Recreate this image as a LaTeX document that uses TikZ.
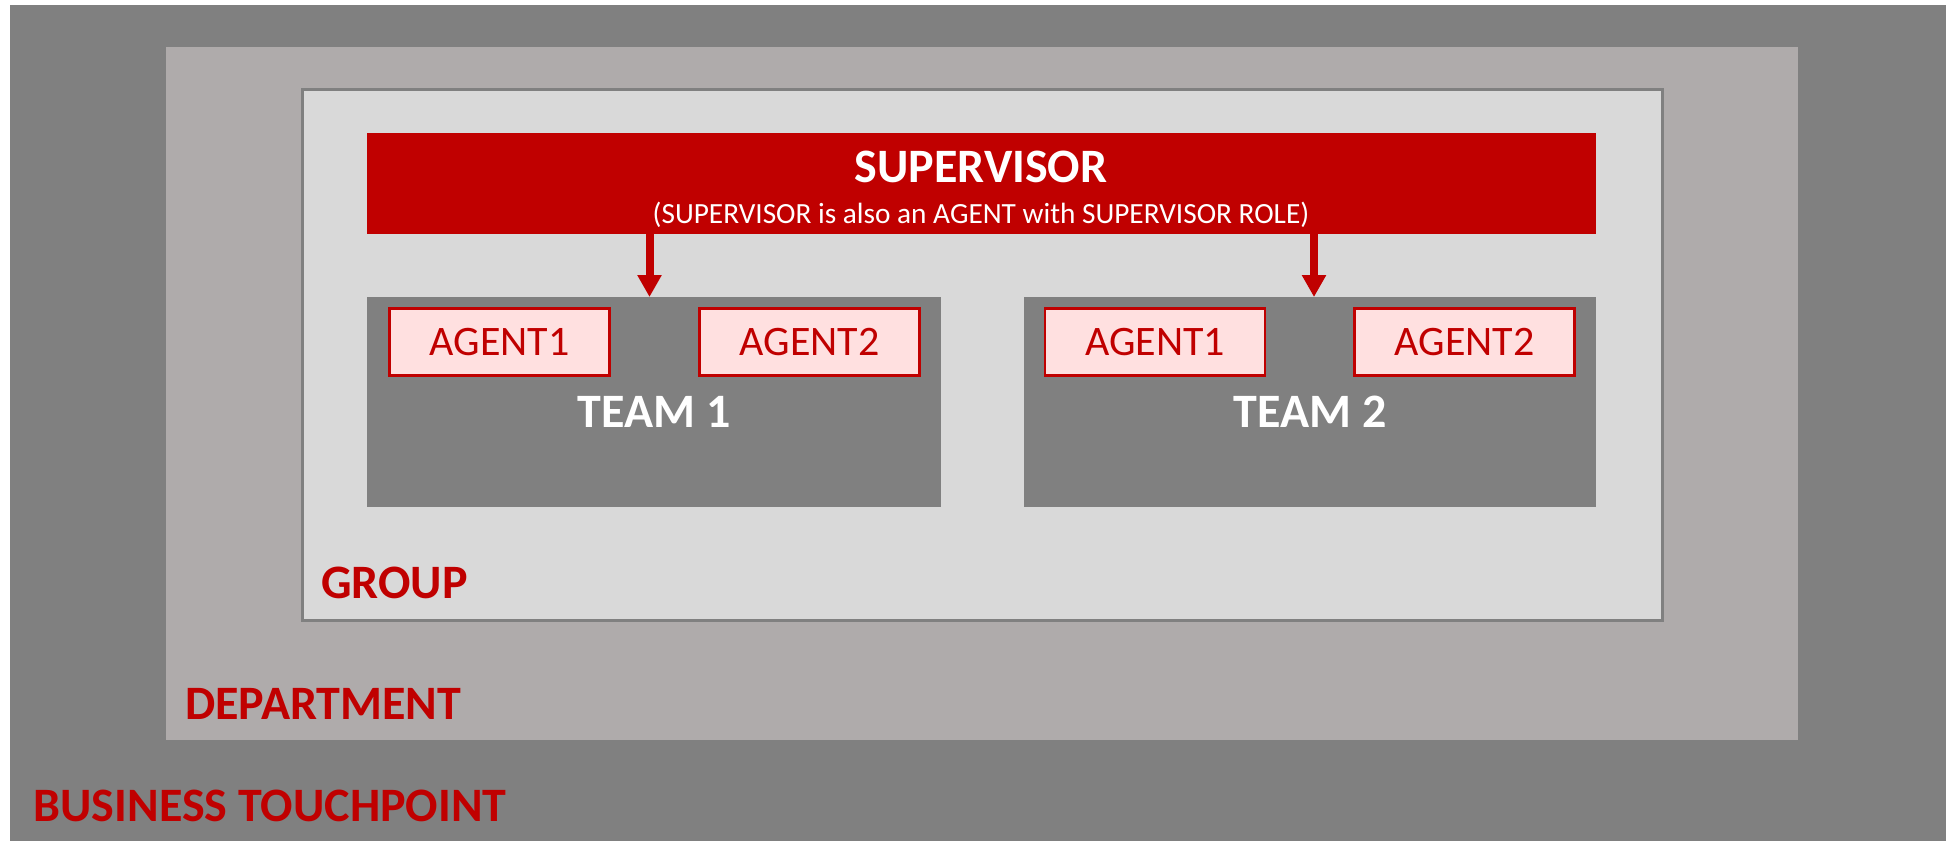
\documentclass[tikz,border=0pt]{standalone}
\usepackage{fontspec}
\setmainfont{Carlito}
\usepackage{tikz}
\usetikzlibrary{arrows.meta}
\definecolor{slate}{HTML}{808080}
\definecolor{stone}{HTML}{AFABAB}
\definecolor{mist}{HTML}{D9D9D9}
\definecolor{crimson}{HTML}{C00000}
\definecolor{blush}{HTML}{FFE0E0}
\newcommand{\BigFont}{\fontsize{48}{57}\selectfont\bfseries}
\newcommand{\MidFont}{\fontsize{42}{50}\selectfont}
\newcommand{\NoteFont}{\fontsize{29.3}{35}\selectfont}

\begin{document}
\begin{tikzpicture}[x=1pt,y=-1pt,
    box/.style={inner sep=0pt,outer sep=0pt,anchor=north west},
    agent/.style={box,draw=crimson,line width=2.5pt,fill=blush,minimum width=220pt,minimum height=67pt,text=crimson,font=\MidFont},
    tag/.style={anchor=base west,inner sep=0pt,text=crimson,font=\BigFont},
    flow/.style={-{Triangle[width=23pt,length=22pt]},line width=8pt,crimson}]
          \useasboundingbox (0,0) rectangle (1946,841);
          \fill[white] (0,0) rectangle (1946,841);
          % nested areas
          \fill[slate] (10,5) rectangle (1946,841);
          \fill[stone] (166,47) rectangle (1798,740);
          \filldraw[fill=mist,draw=slate,line width=3pt] (302,89) rectangle (1662,620);
          \node[tag] (touch) at (33.5,821) {BUSINESS TOUCHPOINT};
          \node[tag] (dept) at (185,719) {DEPARTMENT};
          \node[tag] (group) at (321,598) {GROUP};
          % supervisor bar
          \node[box,fill=crimson,minimum width=1229pt,minimum height=101pt] (sup) at (367,133) {};
          \node[anchor=base,inner sep=0pt,text=white,font=\BigFont] (suptitle) at (981,182) {SUPERVISOR};
          \node[anchor=base,inner sep=0pt,text=white,font=\NoteFont] (supnote) at (981,223) {(SUPERVISOR is also an AGENT with SUPERVISOR ROLE)};
          % teams
          \node[box,fill=slate,minimum width=574pt,minimum height=210pt] (team1) at (367,297) {};
          \node[box,fill=slate,minimum width=572pt,minimum height=210pt] (team2) at (1024,297) {};
          \node[anchor=base,inner sep=0pt,text=white,font=\BigFont] (team1name) at (654,427) {TEAM 1};
          \node[anchor=base,inner sep=0pt,text=white,font=\BigFont] (team2name) at (1310,427) {TEAM 2};
          \foreach \n/\x/\lab in {t1a/389.5/AGENT1,t1b/699.5/AGENT2,t2a/1045/AGENT1,t2b/1354.5/AGENT2}
            \node[agent] (\n) at (\x,308.5) {\lab};
          \draw[flow] ([xshift=-4.5pt]sup.south -| team1.north) -- ([xshift=-4.5pt]team1.north);
          \draw[flow] ([xshift=4pt]sup.south -| team2.north) -- ([xshift=4pt]team2.north);
        \end{tikzpicture}
\end{document}
